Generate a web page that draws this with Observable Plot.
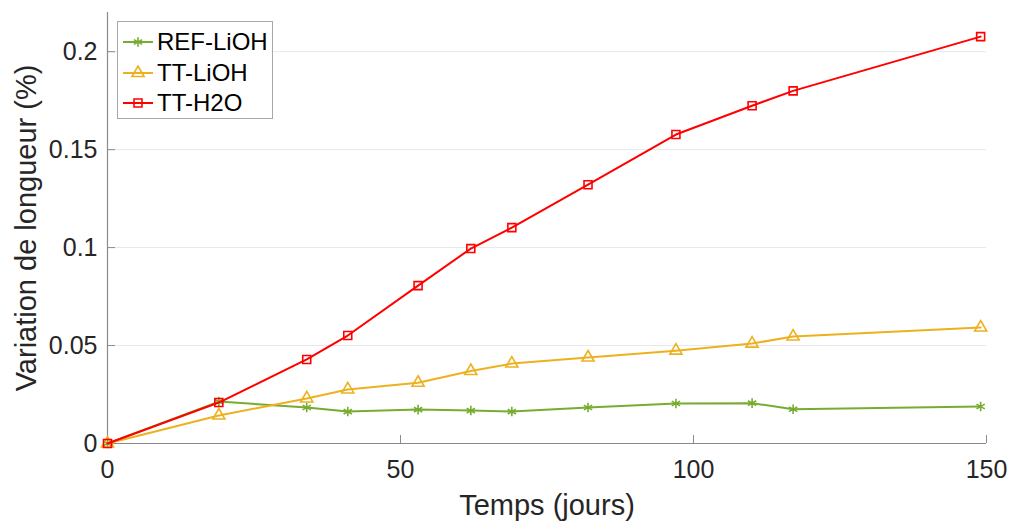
<!DOCTYPE html>
<html>
<head>
<meta charset="utf-8">
<script src="https://cdn.jsdelivr.net/npm/d3@7"></script>
<script src="https://cdn.jsdelivr.net/npm/@observablehq/plot@0.6"></script>
<style>
  html, body { margin: 0; padding: 0; background: #fff; }
  #wrap { position: relative; width: 1010px; height: 522px; font-family: "Liberation Sans", Arial, Helvetica, sans-serif; }
  #legend { position: absolute; left: 117px; top: 21px; width: 154px; height: 96px; border: 1px solid #a8a8a8; background: #fff; }
  .row { position: absolute; left: 0; height: 30px; display: flex; align-items: center; }
  .row span { font-size: 24px; color: #000; margin-left: 1px; white-space: nowrap; }
</style>
</head>
<body>
<div id="wrap"><div id="legend"></div></div>
<script>
// ---- data ----
const days = [0, 19, 34, 41, 53, 62, 69, 82, 97, 110, 117, 149];
const refLiOH = [0, 0.0214, 0.0184, 0.0163, 0.0173, 0.0168, 0.0163, 0.0184, 0.0204, 0.0206, 0.0175, 0.0189];
const ttLiOH  = [0, 0.0143, 0.0230, 0.0276, 0.0310, 0.0370, 0.0408, 0.0439, 0.0474, 0.0510, 0.0546, 0.0592];
const ttH2O   = [0, 0.0209, 0.0429, 0.0551, 0.0806, 0.0995, 0.1102, 0.1321, 0.1577, 0.1724, 0.1800, 0.2077];
const seriesNames = ["REF-LiOH", "TT-LiOH", "TT-H2O"];
const seriesValues = [refLiOH, ttLiOH, ttH2O];
const seriesColors = ["#77AC30", "#EDB120", "#FF0000"];
const seriesSymbols = ["asterisk", "triangle", "square"];
const xTicks = [0, 50, 100, 150];
const yTicks = [0, 0.05, 0.1, 0.15, 0.2];
const xLabel = "Temps (jours)";
const yLabel = "Variation de longueur (%)";

const rows = seriesNames.flatMap((s, k) => days.map((d, i) => ({series: s, day: d, value: seriesValues[k][i]})));

const axisColor = "#8a8a8a";
const textColor = "#262626";

const seriesMarks = seriesNames.flatMap((s) => {
  const sub = rows.filter(r => r.series === s);
  return [
    Plot.line(sub, {x: "day", y: "value", stroke: "series", strokeWidth: 2}),
    Plot.dot(sub, {x: "day", y: "value", stroke: "series", symbol: "series", r: 4.5, fill: "none", strokeWidth: 1.6})
  ];
});

const chart = Plot.plot({
  width: 1010,
  height: 522,
  marginLeft: 107,
  marginRight: 24,
  marginTop: 12,
  marginBottom: 79,
  style: {fontFamily: "'Liberation Sans', Arial, Helvetica, sans-serif", background: "#fff", overflow: "visible"},
  x: {domain: [0, 150], label: null},
  y: {domain: [0, 0.22], label: null},
  color: {domain: seriesNames, range: seriesColors},
  symbol: {domain: seriesNames, range: seriesSymbols},
  marks: [
    Plot.gridY(yTicks.filter(d => d > 0), {stroke: "#e8e8e8", strokeOpacity: 1, strokeWidth: 1}),
    Plot.ruleY([0], {stroke: axisColor, strokeWidth: 1.2}),
    Plot.ruleX([0], {stroke: axisColor, strokeWidth: 1.2}),
    Plot.axisX(xTicks, {tickSize: -8, tickFormat: () => "", stroke: axisColor, label: null}),
    Plot.axisY(yTicks, {tickSize: -8, tickFormat: () => "", stroke: axisColor, label: null}),
    Plot.axisX(xTicks, {tickSize: 0, tickPadding: 17, fontSize: 25, fill: textColor, label: null, tickFormat: d => String(d)}),
    Plot.axisY(yTicks, {tickSize: 0, tickPadding: 10, fontSize: 25, fill: textColor, label: null, tickFormat: d => String(d)}),
    Plot.text([xLabel], {text: d => d, frameAnchor: "bottom", textAnchor: "middle", lineAnchor: "bottom", dy: 71, fontSize: 29, fill: textColor}),
    Plot.text([yLabel], {text: d => d, frameAnchor: "left", textAnchor: "middle", lineAnchor: "bottom", rotate: -90, dx: -72, fontSize: 29, fill: textColor}),
    ...seriesMarks
  ]
});
document.getElementById("wrap").prepend(chart);

// legend (inside the axes, top-left)
const legend = document.getElementById("legend");
seriesNames.forEach((s, k) => {
  const row = document.createElement("div");
  row.className = "row";
  row.style.top = (5 + k * 30.5) + "px";
  const ns = "http://www.w3.org/2000/svg";
  const svg = document.createElementNS(ns, "svg");
  svg.setAttribute("width", 38);
  svg.setAttribute("height", 30);
  const line = document.createElementNS(ns, "line");
  line.setAttribute("x1", 5); line.setAttribute("x2", 35);
  line.setAttribute("y1", 15); line.setAttribute("y2", 15);
  line.setAttribute("stroke", seriesColors[k]); line.setAttribute("stroke-width", 2);
  svg.appendChild(line);
  const sym = {asterisk: d3.symbolAsterisk, triangle: d3.symbolTriangle, square: d3.symbolSquare}[seriesSymbols[k]];
  const p = document.createElementNS(ns, "path");
  p.setAttribute("d", d3.symbol(sym, 4.5 * 4.5 * Math.PI)());
  p.setAttribute("transform", "translate(20,15)");
  p.setAttribute("fill", "none");
  p.setAttribute("stroke", seriesColors[k]);
  p.setAttribute("stroke-width", 1.6);
  svg.appendChild(p);
  const span = document.createElement("span");
  span.textContent = s;
  row.appendChild(svg);
  row.appendChild(span);
  legend.appendChild(row);
});
</script>
</body>
</html>
